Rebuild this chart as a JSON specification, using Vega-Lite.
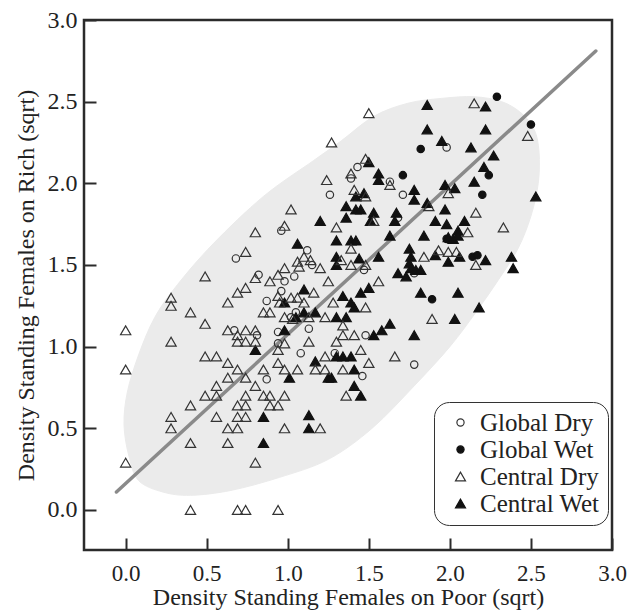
{
"$schema":"https://vega.github.io/schema/vega-lite/v6.json",
"width":528,"height":530,
"autosize":{"type":"none"},
"padding":{"left":84,"top":20,"right":16,"bottom":61},
"background":"white",
"datasets":{
"ellipse":[
{"i":0,"x":0.40,"y":0.09},{"i":1,"x":0.65,"y":0.12},{"i":2,"x":0.95,"y":0.20},{"i":3,"x":1.25,"y":0.31},{"i":4,"x":1.52,"y":0.50},{"i":5,"x":1.78,"y":0.76},{"i":6,"x":2.00,"y":1.00},{"i":7,"x":2.16,"y":1.21},{"i":8,"x":2.30,"y":1.41},{"i":9,"x":2.42,"y":1.60},{"i":10,"x":2.50,"y":1.80},{"i":11,"x":2.545,"y":2.00},{"i":12,"x":2.55,"y":2.19},{"i":13,"x":2.52,"y":2.33},{"i":14,"x":2.44,"y":2.43},{"i":15,"x":2.32,"y":2.50},{"i":16,"x":2.15,"y":2.53},{"i":17,"x":1.95,"y":2.52},{"i":18,"x":1.74,"y":2.49},{"i":19,"x":1.53,"y":2.41},{"i":20,"x":1.33,"y":2.26},{"i":21,"x":1.16,"y":2.14},{"i":22,"x":0.85,"y":1.92},{"i":23,"x":0.54,"y":1.63},{"i":24,"x":0.32,"y":1.38},{"i":25,"x":0.18,"y":1.18},{"i":26,"x":0.08,"y":0.95},{"i":27,"x":0.01,"y":0.72},{"i":28,"x":-0.01,"y":0.52},{"i":29,"x":0.02,"y":0.33},{"i":30,"x":0.08,"y":0.18},{"i":31,"x":0.23,"y":0.11}
],
"fit":[{"x":-0.057,"y":0.11},{"x":2.90,"y":2.81}],
"points":[
{"x":1.43,"y":2.10,"g":"Global Dry"},{"x":1.39,"y":2.03,"g":"Global Dry"},{"x":1.63,"y":2.01,"g":"Global Dry"},{"x":1.71,"y":1.93,"g":"Global Dry"},{"x":1.68,"y":1.79,"g":"Global Dry"},{"x":1.98,"y":2.22,"g":"Global Dry"},{"x":1.78,"y":1.45,"g":"Global Dry"},{"x":1.48,"y":1.07,"g":"Global Dry"},{"x":1.78,"y":0.89,"g":"Global Dry"},{"x":1.46,"y":0.82,"g":"Global Dry"},{"x":1.26,"y":1.93,"g":"Global Dry"},{"x":0.96,"y":1.71,"g":"Global Dry"},{"x":1.12,"y":1.59,"g":"Global Dry"},{"x":0.68,"y":1.54,"g":"Global Dry"},{"x":1.15,"y":1.50,"g":"Global Dry"},{"x":0.82,"y":1.44,"g":"Global Dry"},{"x":0.67,"y":1.10,"g":"Global Dry"},{"x":0.81,"y":1.07,"g":"Global Dry"},{"x":0.87,"y":0.80,"g":"Global Dry"},{"x":0.87,"y":1.28,"g":"Global Dry"},{"x":0.96,"y":1.34,"g":"Global Dry"},{"x":1.02,"y":1.18,"g":"Global Dry"},{"x":1.05,"y":1.21,"g":"Global Dry"},{"x":0.94,"y":1.02,"g":"Global Dry"},{"x":0.94,"y":1.09,"g":"Global Dry"},{"x":1.08,"y":0.96,"g":"Global Dry"},{"x":1.13,"y":1.11,"g":"Global Dry"},{"x":0.98,"y":1.40,"g":"Global Dry"},{"x":1.04,"y":1.43,"g":"Global Dry"},{"x":1.29,"y":0.96,"g":"Global Dry"},{"x":1.47,"y":1.47,"g":"Global Dry"},
{"x":2.29,"y":2.53,"g":"Global Wet"},{"x":2.50,"y":2.36,"g":"Global Wet"},{"x":1.82,"y":2.21,"g":"Global Wet"},{"x":2.24,"y":2.05,"g":"Global Wet"},{"x":2.20,"y":1.93,"g":"Global Wet"},{"x":1.71,"y":2.05,"g":"Global Wet"},{"x":1.89,"y":1.29,"g":"Global Wet"},{"x":1.98,"y":1.66,"g":"Global Wet"},{"x":2.14,"y":1.55,"g":"Global Wet"},{"x":2.17,"y":1.56,"g":"Global Wet"},
{"x":1.82,"y":1.33,"g":"Central Wet"},{"x":2.05,"y":1.33,"g":"Central Wet"},{"x":2.18,"y":1.24,"g":"Central Wet"},{"x":2.03,"y":1.17,"g":"Central Wet"},{"x":1.78,"y":1.07,"g":"Central Wet"},{"x":1.63,"y":1.14,"g":"Central Wet"},{"x":1.58,"y":1.10,"g":"Central Wet"},{"x":1.53,"y":1.07,"g":"Central Wet"},{"x":1.39,"y":0.94,"g":"Central Wet"},{"x":1.34,"y":0.94,"g":"Central Wet"},{"x":1.41,"y":0.86,"g":"Central Wet"},{"x":1.41,"y":0.76,"g":"Central Wet"},{"x":1.45,"y":0.70,"g":"Central Wet"},{"x":1.36,"y":1.18,"g":"Central Wet"},{"x":1.41,"y":1.24,"g":"Central Wet"},{"x":1.39,"y":1.27,"g":"Central Wet"},{"x":1.45,"y":1.33,"g":"Central Wet"},{"x":1.50,"y":1.36,"g":"Central Wet"},{"x":1.34,"y":1.31,"g":"Central Wet"},
{"x":1.86,"y":2.48,"g":"Central Wet"},{"x":2.22,"y":2.47,"g":"Central Wet"},{"x":1.86,"y":2.33,"g":"Central Wet"},{"x":2.22,"y":2.33,"g":"Central Wet"},{"x":1.95,"y":2.26,"g":"Central Wet"},{"x":2.13,"y":2.22,"g":"Central Wet"},{"x":2.27,"y":2.17,"g":"Central Wet"},{"x":2.21,"y":2.10,"g":"Central Wet"},{"x":1.50,"y":2.13,"g":"Central Wet"},{"x":1.56,"y":2.06,"g":"Central Wet"},{"x":1.56,"y":2.02,"g":"Central Wet"},{"x":1.78,"y":1.96,"g":"Central Wet"},{"x":1.78,"y":1.90,"g":"Central Wet"},{"x":1.97,"y":1.99,"g":"Central Wet"},{"x":2.03,"y":1.97,"g":"Central Wet"},{"x":2.15,"y":2.01,"g":"Central Wet"},{"x":2.53,"y":1.92,"g":"Central Wet"},{"x":1.47,"y":1.94,"g":"Central Wet"},{"x":1.36,"y":1.86,"g":"Central Wet"},{"x":1.42,"y":1.84,"g":"Central Wet"},{"x":1.45,"y":1.84,"g":"Central Wet"},{"x":1.53,"y":1.82,"g":"Central Wet"},{"x":1.51,"y":1.77,"g":"Central Wet"},{"x":1.36,"y":1.79,"g":"Central Wet"},{"x":1.67,"y":1.82,"g":"Central Wet"},{"x":1.66,"y":1.77,"g":"Central Wet"},{"x":1.86,"y":1.88,"g":"Central Wet"},{"x":1.97,"y":1.84,"g":"Central Wet"},{"x":1.91,"y":1.77,"g":"Central Wet"},{"x":1.98,"y":1.75,"g":"Central Wet"},{"x":2.09,"y":1.77,"g":"Central Wet"},{"x":2.05,"y":1.71,"g":"Central Wet"},{"x":1.84,"y":1.68,"g":"Central Wet"},{"x":1.99,"y":1.67,"g":"Central Wet"},{"x":2.02,"y":1.66,"g":"Central Wet"},{"x":2.05,"y":1.68,"g":"Central Wet"},{"x":1.63,"y":1.68,"g":"Central Wet"},{"x":1.44,"y":1.54,"g":"Central Wet"},{"x":1.56,"y":1.55,"g":"Central Wet"},{"x":1.75,"y":1.60,"g":"Central Wet"},{"x":1.76,"y":1.55,"g":"Central Wet"},{"x":1.91,"y":1.56,"g":"Central Wet"},{"x":1.99,"y":1.52,"g":"Central Wet"},{"x":2.06,"y":1.55,"g":"Central Wet"},{"x":2.22,"y":1.53,"g":"Central Wet"},{"x":2.38,"y":1.55,"g":"Central Wet"},{"x":2.39,"y":1.48,"g":"Central Wet"},{"x":1.75,"y":1.51,"g":"Central Wet"},{"x":1.76,"y":1.48,"g":"Central Wet"},{"x":1.79,"y":1.47,"g":"Central Wet"},{"x":1.82,"y":1.47,"g":"Central Wet"},{"x":1.68,"y":1.45,"g":"Central Wet"},{"x":1.73,"y":1.43,"g":"Central Wet"},
{"x":1.42,"y":1.92,"g":"Central Wet"},{"x":1.20,"y":1.77,"g":"Central Wet"},{"x":1.30,"y":1.65,"g":"Central Wet"},{"x":1.39,"y":1.65,"g":"Central Wet"},{"x":1.42,"y":1.65,"g":"Central Wet"},{"x":1.06,"y":1.63,"g":"Central Wet"},{"x":1.30,"y":1.55,"g":"Central Wet"},{"x":1.30,"y":1.50,"g":"Central Wet"},
{"x":0.80,"y":0.98,"g":"Central Wet"},{"x":0.85,"y":0.57,"g":"Central Wet"},{"x":0.85,"y":0.41,"g":"Central Wet"},{"x":1.13,"y":0.58,"g":"Central Wet"},{"x":1.13,"y":0.50,"g":"Central Wet"},{"x":1.01,"y":0.81,"g":"Central Wet"},{"x":0.98,"y":1.10,"g":"Central Wet"},{"x":1.17,"y":0.91,"g":"Central Wet"},{"x":1.25,"y":0.81,"g":"Central Wet"},{"x":1.27,"y":0.81,"g":"Central Wet"},{"x":1.30,"y":0.94,"g":"Central Wet"},{"x":1.30,"y":1.18,"g":"Central Wet"},{"x":0.98,"y":1.27,"g":"Central Wet"},{"x":1.10,"y":1.35,"g":"Central Wet"},{"x":1.10,"y":1.21,"g":"Central Wet"},{"x":1.17,"y":1.21,"g":"Central Wet"},{"x":1.05,"y":1.18,"g":"Central Wet"},
{"x":1.89,"y":1.17,"g":"Central Dry"},{"x":1.41,"y":1.07,"g":"Central Dry"},{"x":1.34,"y":1.07,"g":"Central Dry"},{"x":1.66,"y":0.94,"g":"Central Dry"},{"x":1.45,"y":0.98,"g":"Central Dry"},{"x":1.50,"y":0.90,"g":"Central Dry"},{"x":1.34,"y":0.86,"g":"Central Dry"},{"x":1.36,"y":0.70,"g":"Central Dry"},{"x":1.48,"y":1.24,"g":"Central Dry"},{"x":1.56,"y":1.40,"g":"Central Dry"},
{"x":2.15,"y":2.49,"g":"Central Dry"},{"x":1.50,"y":2.43,"g":"Central Dry"},{"x":2.48,"y":2.29,"g":"Central Dry"},{"x":1.48,"y":2.15,"g":"Central Dry"},{"x":1.39,"y":2.06,"g":"Central Dry"},{"x":1.63,"y":1.99,"g":"Central Dry"},{"x":1.99,"y":1.94,"g":"Central Dry"},{"x":1.41,"y":1.96,"g":"Central Dry"},{"x":1.48,"y":1.92,"g":"Central Dry"},{"x":1.53,"y":1.77,"g":"Central Dry"},{"x":1.87,"y":1.86,"g":"Central Dry"},{"x":2.16,"y":1.82,"g":"Central Dry"},{"x":2.33,"y":1.73,"g":"Central Dry"},{"x":2.11,"y":1.70,"g":"Central Dry"},{"x":1.39,"y":1.60,"g":"Central Dry"},{"x":1.33,"y":1.53,"g":"Central Dry"},{"x":1.84,"y":1.55,"g":"Central Dry"},{"x":1.93,"y":1.59,"g":"Central Dry"},{"x":1.99,"y":1.58,"g":"Central Dry"},{"x":2.04,"y":1.58,"g":"Central Dry"},{"x":2.16,"y":1.50,"g":"Central Dry"},{"x":1.48,"y":1.50,"g":"Central Dry"},{"x":1.39,"y":1.50,"g":"Central Dry"},
{"x":1.27,"y":2.25,"g":"Central Dry"},{"x":1.24,"y":2.02,"g":"Central Dry"},{"x":1.02,"y":1.84,"g":"Central Dry"},{"x":1.30,"y":1.73,"g":"Central Dry"},{"x":0.80,"y":1.70,"g":"Central Dry"},{"x":0.98,"y":1.74,"g":"Central Dry"},{"x":0.74,"y":1.58,"g":"Central Dry"},{"x":1.10,"y":1.55,"g":"Central Dry"},{"x":1.06,"y":1.52,"g":"Central Dry"},{"x":1.14,"y":1.53,"g":"Central Dry"},{"x":1.20,"y":1.48,"g":"Central Dry"},{"x":1.25,"y":1.40,"g":"Central Dry"},{"x":1.07,"y":1.49,"g":"Central Dry"},{"x":0.98,"y":1.48,"g":"Central Dry"},{"x":0.94,"y":1.44,"g":"Central Dry"},{"x":0.89,"y":1.40,"g":"Central Dry"},{"x":0.80,"y":1.42,"g":"Central Dry"},{"x":0.49,"y":1.43,"g":"Central Dry"},
{"x":0,"y":1.10,"g":"Central Dry"},{"x":0,"y":0.86,"g":"Central Dry"},{"x":0,"y":0.29,"g":"Central Dry"},{"x":0.28,"y":1.30,"g":"Central Dry"},{"x":0.28,"y":1.25,"g":"Central Dry"},{"x":0.28,"y":1.03,"g":"Central Dry"},{"x":0.28,"y":0.57,"g":"Central Dry"},{"x":0.28,"y":0.50,"g":"Central Dry"},{"x":0.40,"y":1.21,"g":"Central Dry"},{"x":0.40,"y":0.64,"g":"Central Dry"},{"x":0.40,"y":0.41,"g":"Central Dry"},{"x":0.40,"y":0.0,"g":"Central Dry"},{"x":0.49,"y":1.14,"g":"Central Dry"},{"x":0.49,"y":0.94,"g":"Central Dry"},{"x":0.56,"y":0.94,"g":"Central Dry"},{"x":0.49,"y":0.70,"g":"Central Dry"},{"x":0.56,"y":0.76,"g":"Central Dry"},{"x":0.56,"y":0.70,"g":"Central Dry"},{"x":0.56,"y":0.57,"g":"Central Dry"},{"x":0.63,"y":1.27,"g":"Central Dry"},{"x":0.63,"y":1.10,"g":"Central Dry"},{"x":0.69,"y":1.07,"g":"Central Dry"},{"x":0.63,"y":0.90,"g":"Central Dry"},{"x":0.63,"y":0.81,"g":"Central Dry"},{"x":0.63,"y":0.50,"g":"Central Dry"},{"x":0.63,"y":0.41,"g":"Central Dry"},{"x":0.69,"y":1.03,"g":"Central Dry"},{"x":0.69,"y":0.86,"g":"Central Dry"},{"x":0.69,"y":0.64,"g":"Central Dry"},{"x":0.69,"y":0.57,"g":"Central Dry"},{"x":0.69,"y":0.50,"g":"Central Dry"},{"x":0.69,"y":0.0,"g":"Central Dry"},{"x":0.74,"y":0.0,"g":"Central Dry"},{"x":0.74,"y":1.03,"g":"Central Dry"},{"x":0.74,"y":1.10,"g":"Central Dry"},{"x":0.74,"y":0.70,"g":"Central Dry"},{"x":0.74,"y":0.64,"g":"Central Dry"},{"x":0.74,"y":0.57,"g":"Central Dry"},{"x":0.74,"y":0.81,"g":"Central Dry"},{"x":0.74,"y":1.36,"g":"Central Dry"},{"x":0.69,"y":1.33,"g":"Central Dry"},{"x":0.80,"y":1.03,"g":"Central Dry"},{"x":0.80,"y":0.76,"g":"Central Dry"},{"x":0.80,"y":0.29,"g":"Central Dry"},{"x":0.85,"y":0.86,"g":"Central Dry"},{"x":0.85,"y":0.70,"g":"Central Dry"},{"x":0.89,"y":0.70,"g":"Central Dry"},{"x":0.89,"y":0.64,"g":"Central Dry"},{"x":0.94,"y":0.64,"g":"Central Dry"},{"x":0.98,"y":0.70,"g":"Central Dry"},{"x":0.94,"y":0.0,"g":"Central Dry"},{"x":0.98,"y":0.50,"g":"Central Dry"},{"x":1.20,"y":0.50,"g":"Central Dry"},{"x":0.94,"y":0.90,"g":"Central Dry"},{"x":0.98,"y":0.86,"g":"Central Dry"},{"x":1.06,"y":0.86,"g":"Central Dry"},{"x":0.94,"y":0.98,"g":"Central Dry"},{"x":0.98,"y":1.02,"g":"Central Dry"},{"x":1.13,"y":1.03,"g":"Central Dry"},{"x":1.17,"y":0.86,"g":"Central Dry"},{"x":1.23,"y":0.94,"g":"Central Dry"},{"x":1.23,"y":0.86,"g":"Central Dry"},{"x":1.30,"y":1.03,"g":"Central Dry"},{"x":1.13,"y":1.18,"g":"Central Dry"},{"x":1.23,"y":1.18,"g":"Central Dry"},{"x":1.34,"y":1.13,"g":"Central Dry"},{"x":0.85,"y":1.21,"g":"Central Dry"},{"x":0.89,"y":1.21,"g":"Central Dry"},{"x":0.95,"y":1.27,"g":"Central Dry"},{"x":0.94,"y":1.31,"g":"Central Dry"},{"x":1.02,"y":1.30,"g":"Central Dry"},{"x":1.06,"y":1.30,"g":"Central Dry"},{"x":1.10,"y":1.27,"g":"Central Dry"},{"x":1.16,"y":1.33,"g":"Central Dry"},{"x":0.98,"y":1.18,"g":"Central Dry"},{"x":1.03,"y":1.17,"g":"Central Dry"},{"x":1.28,"y":1.27,"g":"Central Dry"},{"x":0.80,"y":1.10,"g":"Central Dry"}
]
},
"encoding":{
"x":{"field":"x","type":"quantitative","scale":{"domain":[-0.257,3.0],"nice":false,"zero":false},"axis":{"title":"Density Standing Females on Poor (sqrt)","values":[0,0.5,1,1.5,2,2.5,3],"format":".1f","labelPadding":24,"labelFontSize":23,"titlePadding":0,"labelFlush":false}},
"y":{"field":"y","type":"quantitative","scale":{"domain":[-0.245,3.0],"nice":false,"zero":false},"axis":{"title":"Density Standing Females on Rich (sqrt)","values":[0,0.5,1,1.5,2,2.5,3],"format":".1f","labelPadding":19,"titlePadding":9,"labelFlush":false}}
},
"layer":[
{"data":{"name":"ellipse"},"mark":{"type":"line","interpolate":"cardinal-closed","fill":"#ebebeb","stroke":"#ebebeb","strokeWidth":1},"encoding":{"order":{"field":"i","type":"quantitative"}}},
{"data":{"name":"fit"},"mark":{"type":"line","stroke":"#8a8a8a","strokeWidth":3.5,"strokeCap":"round"},"encoding":{}},
{"data":{"name":"points"},"mark":{"type":"point","size":105,"strokeWidth":1.2,"opacity":1},
"encoding":{
"shape":{"field":"g","type":"nominal","scale":{"domain":["Global Dry","Global Wet","Central Dry","Central Wet"],"range":["M0.72,0A0.72,0.72,0,1,1,-0.72,0A0.72,0.72,0,1,1,0.72,0Z","M0.72,0A0.72,0.72,0,1,1,-0.72,0A0.72,0.72,0,1,1,0.72,0Z","triangle-up","triangle-up"]},"legend":{"title":null,"orient":"none","legendX":350,"legendY":382,"padding":8,"cornerRadius":15,"strokeColor":"#333","fillColor":"white","labelFont":"Liberation Serif, Times New Roman, serif","labelFontSize":25,"labelColor":"#222","symbolSize":100,"symbolStrokeWidth":1.2,"labelOffset":7,"rowPadding":1,"symbolOffset":6}},
"fill":{"field":"g","type":"nominal","scale":{"domain":["Global Dry","Global Wet","Central Dry","Central Wet"],"range":["transparent","#111111","transparent","#111111"]},"legend":{"title":null,"orient":"none","legendX":350,"legendY":382,"padding":8,"cornerRadius":15,"strokeColor":"#333","fillColor":"white","labelFont":"Liberation Serif, Times New Roman, serif","labelFontSize":25,"labelColor":"#222","symbolSize":100,"symbolStrokeWidth":1.2,"labelOffset":7,"rowPadding":1,"symbolOffset":6}},
"stroke":{"field":"g","type":"nominal","scale":{"domain":["Global Dry","Global Wet","Central Dry","Central Wet"],"range":["#333333","#111111","#333333","#111111"]},"legend":{"title":null,"orient":"none","legendX":350,"legendY":382,"padding":8,"cornerRadius":15,"strokeColor":"#333","fillColor":"white","labelFont":"Liberation Serif, Times New Roman, serif","labelFontSize":25,"labelColor":"#222","symbolSize":100,"symbolStrokeWidth":1.2,"labelOffset":7,"rowPadding":1,"symbolOffset":6}}
}}
],
"config":{
"view":{"stroke":"#2b2b2b","strokeWidth":2.5},
"axis":{"domain":false,"grid":false,"tickSize":-12,"tickWidth":2,"tickColor":"#2b2b2b","labelFont":"Liberation Serif, Times New Roman, serif","labelFontSize":24,"labelColor":"#222","titleFont":"Liberation Serif, Times New Roman, serif","titleFontSize":24,"titleFontWeight":"normal","titleColor":"#222"}
}
}
